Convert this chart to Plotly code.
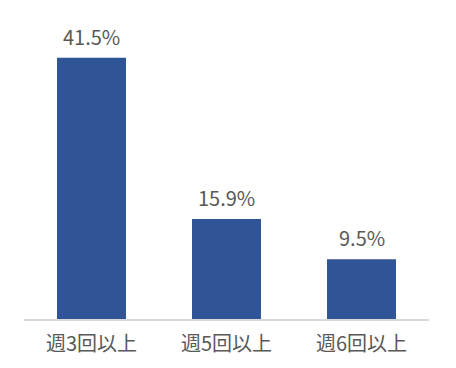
import plotly.graph_objects as go

categories = ["週3回以上", "週5回以上", "週6回以上"]
values = [41.5, 15.9, 9.5]
labels = ["41.5%", "15.9%", "9.5%"]

FONT = "Noto Sans CJK JP"
GRAY = "#595959"

fig = go.Figure(go.Bar(
    x=categories, y=values,
    marker=dict(color="#2F5597", line=dict(width=0)),
    hoverinfo="skip",
))
for c, v, t in zip(categories, values, labels):
    fig.add_annotation(x=c, y=v, text=t, showarrow=False, yanchor="bottom",
                       yshift=5, font=dict(size=20, color=GRAY, family=FONT))
fig.update_layout(
    width=456, height=368,
    margin=dict(l=24, r=27, t=20, b=49),
    paper_bgcolor="white", plot_bgcolor="white",
    bargap=0.489, showlegend=False,
    font=dict(family=FONT, color=GRAY, size=20),
)
fig.update_xaxes(showline=True, linecolor="#D9D9D9", linewidth=2, showgrid=False,
                 ticks="", tickfont=dict(size=20, color=GRAY, family=FONT),
                 ticklabelstandoff=6)
fig.update_yaxes(visible=False, range=[0, 47.5])
fig.write_html("out.html")
